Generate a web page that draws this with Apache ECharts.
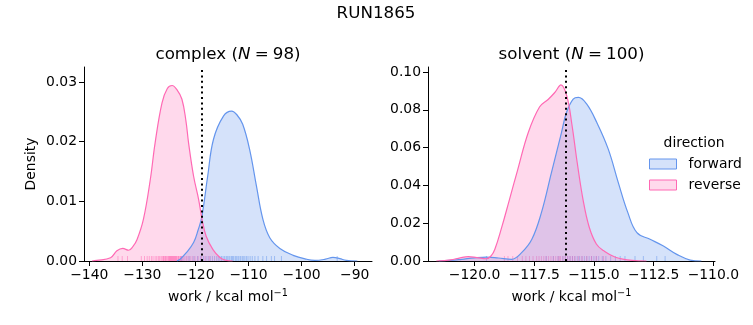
<!DOCTYPE html>
<html>
<head>
<meta charset="utf-8">
<script src="https://cdn.jsdelivr.net/npm/echarts@6/dist/echarts.min.js"></script>
<style>html,body{margin:0;padding:0;background:#fff;}#c{width:753px;height:325px;}</style>
</head>
<body>
<div id="c"></div>
<script>
// ---- data ----
const complexForward = [[-123.5,0],[-122.9,0.0003],[-121.8,0.0013],[-120.35,0.0031],[-119.5,0.0052],[-118.8,0.0074],[-117.7,0.0142],[-116.6,0.0204],[-114.7,0.0243],[-113.2,0.0251],[-112.2,0.0245],[-111.1,0.0229],[-109.8,0.0187],[-108.5,0.0125],[-107.3,0.0070],[-106.0,0.0039],[-104.1,0.0021],[-101.6,0.00095],[-99.1,0.0003],[-97.5,0.0001],[-95.5,0.0003],[-94.1,0.0006],[-92.8,0.0004],[-91.6,0.0001],[-89.5,0]];
const complexReverse = [[-139.5,0],[-138.6,0.0001],[-136.0,0.00055],[-134.8,0.0017],[-133.7,0.0021],[-132.6,0.0018],[-131.8,0.0024],[-131.0,0.0036],[-129.8,0.0070],[-128.5,0.0137],[-127.6,0.0198],[-126.3,0.0265],[-125.3,0.0289],[-124.4,0.0294],[-123.5,0.0287],[-122.55,0.0271],[-121.8,0.0235],[-121.3,0.0198],[-120.35,0.0142],[-119.4,0.0103],[-118.8,0.0072],[-118.0,0.0042],[-116.7,0.0019],[-115.4,0.0006],[-114.2,0.0001],[-113.0,0]];
const solventForward = [[-121.5,0],[-121.0,0.0003],[-120.54,0.0009],[-120.0,0.0017],[-119.5,0.0021],[-119.0,0.0016],[-118.45,0.0009],[-118.03,0.0044],[-117.6,0.0115],[-117.2,0.0256],[-116.78,0.0468],[-116.36,0.068],[-116.15,0.0786],[-115.87,0.0857],[-115.65,0.0866],[-115.3,0.083],[-114.88,0.0733],[-114.4,0.0592],[-113.98,0.0415],[-113.58,0.0256],[-113.2,0.015],[-112.65,0.0115],[-112.09,0.0079],[-111.53,0.0035],[-110.97,0.0005],[-110.5,0]];
const solventReverse = [[-121.6,0],[-121.0,0.0006],[-120.6,0.0017],[-120.26,0.0023],[-119.9,0.0018],[-119.5,0.0012],[-119.3,0.0028],[-119.15,0.0062],[-118.87,0.0175],[-118.55,0.032],[-118.2,0.048],[-117.75,0.068],[-117.28,0.0815],[-116.92,0.0855],[-116.64,0.0892],[-116.38,0.0932],[-116.13,0.087],[-115.92,0.072],[-115.7,0.052],[-115.45,0.032],[-115.2,0.018],[-114.9,0.009],[-114.6,0.0055],[-114.1,0.002],[-113.4,0.0003],[-112.8,0]];

const complexForwardRug = [-122.6,-121.2,-120.3,-119.6,-119.0,-118.5,-118.0,-117.6,-117.2,-116.8,-116.4,-116.0,-115.7,-115.4,-115.1,-114.8,-114.5,-114.2,-114.0,-113.7,-113.5,-113.2,-113.0,-112.8,-112.5,-112.3,-112.0,-111.8,-111.5,-111.2,-111.0,-110.7,-110.4,-110.1,-109.7,-109.3,-108.8,-108.2,-107.3,-106.6,-105.7,-105.1,-103.8,-93.3];
const complexReverseRug = [-134.6,-133.8,-132.8,-130.2,-129.6,-129.1,-128.7,-128.3,-128.0,-127.6,-127.3,-127.0,-126.8,-126.5,-126.3,-126.1,-126.0,-125.9,-125.7,-125.6,-125.5,-125.3,-125.1,-125.0,-124.9,-124.8,-124.7,-124.6,-124.5,-124.4,-124.3,-124.2,-124.1,-124.0,-123.9,-123.8,-123.7,-123.6,-123.5,-123.3,-123.2,-123.1,-122.9,-122.8,-122.7,-122.5,-122.3,-122.0,-121.7,-121.4,-121.0,-120.6,-120.1,-119.5,-118.9,-118.2,-117.4];
const solventForwardRug = [-119.5,-117.0,-116.7,-116.5,-116.3,-116.2,-116.1,-116.0,-115.9,-115.8,-115.7,-115.6,-115.5,-115.4,-115.3,-115.2,-115.1,-115.0,-114.9,-114.8,-114.65,-114.5,-114.3,-114.1,-113.9,-113.7,-113.28,-112.93,-112.37,-112.02];
const solventReverseRug = [-118.75,-118.6,-118.4,-118.2,-118.0,-117.85,-117.7,-117.55,-117.4,-117.3,-117.2,-117.1,-117.0,-116.9,-116.8,-116.7,-116.6,-116.5,-116.45,-116.4,-116.3,-116.2,-116.1,-116.0,-115.9,-115.8,-115.65,-115.5,-115.3,-115.1,-114.9,-114.6];

const complexMarker = -118.8;
const solventMarker = -116.18;

const complexXTicks = [-140,-130,-120,-110,-100,-90];
const complexYTicks = [0,0.01,0.02,0.03];
const solventXTicks = [-120,-117.5,-115,-112.5,-110];
const solventYTicks = [0,0.02,0.04,0.06,0.08,0.10];

const directions = ['forward','reverse'];
// ---------------------------------------------

const FONT = 'DejaVu Sans';
const BLUE = '#6495ED', PINK = '#FF69B4';
const BLUE_FILL = 'rgba(100,149,237,0.27)', PINK_FILL = 'rgba(255,105,180,0.25)';
const minus = s => String(s).replace('-', '\u2212');

function xAxis(idx, min, max, ticks, digits) {
  return {
    type: 'value', gridIndex: idx, min: min, max: max,
    axisLine: {show: true, onZero: false, lineStyle: {color: '#000', width: 1}},
    axisTick: {show: true, length: 5, lineStyle: {color: '#000', width: 1}, customValues: ticks},
    axisLabel: {customValues: ticks, color: '#000', fontFamily: FONT, fontSize: 13.9, margin: 7,
      formatter: v => minus(digits ? v.toFixed(digits) : String(v))},
    splitLine: {show: false},
    name: '{a|work / kcal mol}{s|\u22121}', nameLocation: 'middle', nameGap: 27,
    nameTextStyle: {rich: {
      a: {fontFamily: FONT, fontSize: 13.9, color: '#000', lineHeight: 18},
      s: {fontFamily: FONT, fontSize: 9.7, color: '#000', lineHeight: 8, verticalAlign: 'top'}
    }}
  };
}
function yAxis(idx, max, ticks, name) {
  return {
    type: 'value', gridIndex: idx, min: 0, max: max,
    axisLine: {show: true, lineStyle: {color: '#000', width: 1}},
    axisTick: {show: true, length: 5, lineStyle: {color: '#000', width: 1}, customValues: ticks},
    axisLabel: {customValues: ticks, color: '#000', fontFamily: FONT, fontSize: 13.9, margin: 7,
      formatter: v => v.toFixed(2)},
    splitLine: {show: false},
    name: name || '', nameLocation: 'middle', nameGap: 46,
    nameTextStyle: {fontFamily: FONT, fontSize: 13.9, color: '#000'}
  };
}
function kde(name, idx, data, color, fill) {
  return {
    name: name, type: 'line', xAxisIndex: idx, yAxisIndex: idx, data: data,
    smooth: 0.4, symbol: 'none', silent: true, animation: false,
    lineStyle: {color: color, width: 1.2}, itemStyle: {color: color},
    areaStyle: {color: fill, opacity: 1}
  };
}
function rug(idx, values, color, marker) {
  const s = {
    type: 'custom', xAxisIndex: idx, yAxisIndex: idx, silent: true, animation: false,
    data: values.map(v => [v, 0]),
    encode: {x: 0, y: 1},
    renderItem: function (params, api) {
      const p = api.coord([api.value(0), 0]);
      return {type: 'line', shape: {x1: p[0], y1: p[1], x2: p[0], y2: p[1] - 5},
        style: {stroke: color, lineWidth: 1, opacity: 0.5}};
    }
  };
  if (marker !== undefined) {
    s.markLine = {silent: true, symbol: 'none', label: {show: false}, animation: false,
      lineStyle: {color: '#000', width: 2, type: [2, 3.4]},
      data: [{xAxis: marker}]};
  }
  return s;
}

const titleRich = {
  a: {fontFamily: FONT, fontSize: 16.7, fontWeight: 'normal', color: '#000'},
  i: {fontFamily: FONT, fontSize: 16.7, fontWeight: 'normal', fontStyle: 'italic', color: '#000'}
};

const chart = echarts.init(document.getElementById('c'), null, {renderer: 'canvas'});
chart.setOption({
  backgroundColor: '#fff',
  animation: false,
  title: [
    {text: 'RUN1865', left: 371, textAlign: 'center', top: 0,
      textStyle: {fontFamily: FONT, fontSize: 16.7, fontWeight: 'normal', color: '#000'}},
    {text: '{a|complex (}{i|N}{a|\u2005=\u200598)}', left: 223, textAlign: 'center', top: 41,
      textStyle: {fontWeight: 'normal', rich: titleRich}},
    {text: '{a|solvent (}{i|N}{a|\u2005=\u2005100)}', left: 566.5, textAlign: 'center', top: 41,
      textStyle: {fontWeight: 'normal', rich: titleRich}},
    {text: 'direction', left: 689, textAlign: 'center', top: 131,
      textStyle: {fontFamily: FONT, fontSize: 13.9, fontWeight: 'normal', color: '#000'}}
  ],
  legend: {
    orient: 'vertical', left: 644, top: 152, itemWidth: 27, itemHeight: 10, itemGap: 7,
    selectedMode: false,
    textStyle: {fontFamily: FONT, fontSize: 13.9, color: '#000', padding: [0, 0, 0, 7]},
    data: [
      {name: directions[0], icon: 'rect', itemStyle: {color: BLUE_FILL, borderColor: BLUE, borderWidth: 1}},
      {name: directions[1], icon: 'rect', itemStyle: {color: PINK_FILL, borderColor: PINK, borderWidth: 1}}
    ]
  },
  grid: [
    {left: 84, top: 67, width: 288, height: 194},
    {left: 428, top: 67, width: 287, height: 194}
  ],
  xAxis: [
    xAxis(0, -141.0, -86.74, complexXTicks, 0),
    xAxis(1, -121.95, -109.93, solventXTicks, 1)
  ],
  yAxis: [
    yAxis(0, 0.0325, complexYTicks, 'Density'),
    yAxis(1, 0.1027, solventYTicks, '')
  ],
  series: [
    kde(directions[0], 0, complexForward, BLUE, BLUE_FILL),
    kde(directions[1], 0, complexReverse, PINK, PINK_FILL),
    kde(directions[0], 1, solventForward, BLUE, BLUE_FILL),
    kde(directions[1], 1, solventReverse, PINK, PINK_FILL),
    rug(0, complexForwardRug, BLUE),
    rug(0, complexReverseRug, PINK, complexMarker),
    rug(1, solventForwardRug, BLUE),
    rug(1, solventReverseRug, PINK, solventMarker)
  ]
});
</script>
</body>
</html>
